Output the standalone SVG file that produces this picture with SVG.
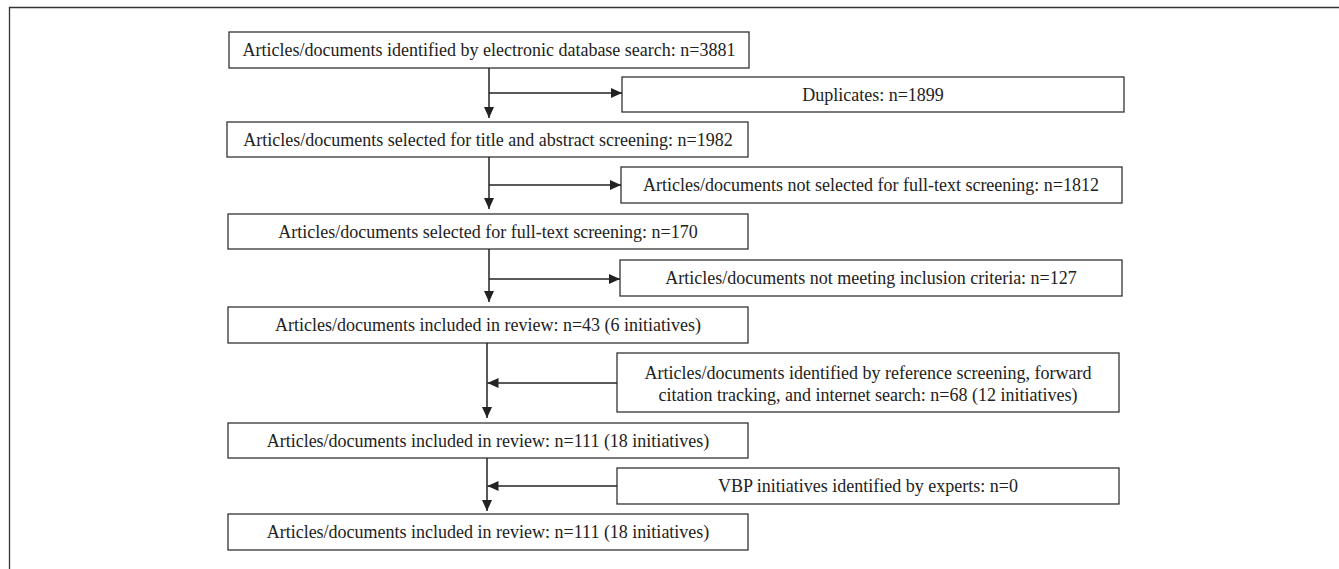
<svg xmlns="http://www.w3.org/2000/svg" width="1339" height="569" viewBox="0 0 1339 569">
<style>
.box{fill:#fff;stroke:#333;stroke-width:1.3}
.t{font-family:"Liberation Serif","Times New Roman",serif;font-size:18px;fill:#222;text-anchor:middle}
.c{fill:none;stroke:#222;stroke-width:1.5}
</style>
<defs>
<marker id="ah" markerUnits="userSpaceOnUse" markerWidth="12" markerHeight="10" refX="11" refY="5" orient="auto">
<path d="M0,0 L11,5 L0,10 Z" fill="#222"/>
</marker>
</defs>
<rect width="1339" height="569" fill="#fff"/>
<path d="M9.5,569 V7.5 H1339" fill="none" stroke="#333" stroke-width="1.3"/>
<g id="n1"><rect class="box" x="229" y="32" width="520" height="36"/><text class="t" x="489" y="56">Articles/documents identified by electronic database search: n=3881</text></g>
<g id="n2"><rect class="box" x="622" y="77" width="502" height="35"/><text class="t" x="873" y="100.5">Duplicates: n=1899</text></g>
<g id="n3"><rect class="box" x="227" y="122" width="521" height="35"/><text class="t" x="488" y="145.5">Articles/documents selected for title and abstract screening: n=1982</text></g>
<g id="n4"><rect class="box" x="621" y="167" width="501" height="36"/><text class="t" x="871" y="191">Articles/documents not selected for full-text screening: n=1812</text></g>
<g id="n5"><rect class="box" x="228" y="214" width="520" height="35"/><text class="t" x="488" y="237.5">Articles/documents selected for full-text screening: n=170</text></g>
<g id="n6"><rect class="box" x="620" y="260" width="502" height="36"/><text class="t" x="871" y="284">Articles/documents not meeting inclusion criteria: n=127</text></g>
<g id="n7"><rect class="box" x="228" y="307" width="520" height="36"/><text class="t" x="488" y="331">Articles/documents included in review: n=43 (6 initiatives)</text></g>
<g id="n8"><rect class="box" x="617" y="353" width="502" height="59"/><text class="t" x="868" y="379">Articles/documents identified by reference screening, forward</text><text class="t" x="868" y="401">citation tracking, and internet search: n=68 (12 initiatives)</text></g>
<g id="n9"><rect class="box" x="228" y="423" width="520" height="35"/><text class="t" x="488" y="446.5">Articles/documents included in review: n=111 (18 initiatives)</text></g>
<g id="n10"><rect class="box" x="617" y="468" width="502" height="36"/><text class="t" x="868" y="492">VBP initiatives identified by experts: n=0</text></g>
<g id="n11"><rect class="box" x="228" y="514" width="520" height="36"/><text class="t" x="488" y="538">Articles/documents included in review: n=111 (18 initiatives)</text></g>
<g id="connectors">
<line class="c" x1="489" y1="68" x2="489" y2="118" marker-end="url(#ah)"/>
<line class="c" x1="489" y1="93" x2="622" y2="93" marker-end="url(#ah)"/>
<line class="c" x1="489" y1="157" x2="489" y2="209" marker-end="url(#ah)"/>
<line class="c" x1="489" y1="185" x2="621" y2="185" marker-end="url(#ah)"/>
<line class="c" x1="489" y1="249" x2="489" y2="302" marker-end="url(#ah)"/>
<line class="c" x1="489" y1="279" x2="620" y2="279" marker-end="url(#ah)"/>
<line class="c" x1="487" y1="343" x2="487" y2="418" marker-end="url(#ah)"/>
<line class="c" x1="617" y1="383" x2="487.5" y2="383" marker-end="url(#ah)"/>
<line class="c" x1="487" y1="458" x2="487" y2="511" marker-end="url(#ah)"/>
<line class="c" x1="617" y1="486" x2="487.5" y2="486" marker-end="url(#ah)"/>
</g>
</svg>
